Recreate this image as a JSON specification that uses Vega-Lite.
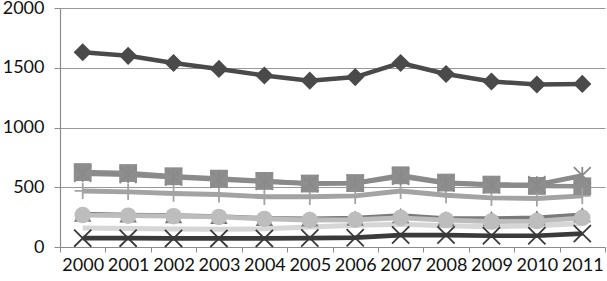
{
  "$schema": "https://vega.github.io/schema/vega-lite/v6.json",
  "width": 545,
  "height": 239,
  "autosize": {"type": "none"},
  "padding": {"left": 60, "top": 8, "right": 2, "bottom": 34},
  "background": "white",
  "config": {
    "view": {"stroke": null},
    "font": "Lato",
    "axis": {"labelFont": "Lato", "labelFontSize": 18, "labelColor": "#111", "domainColor": "#8c8c8c", "tickColor": "#8c8c8c", "gridColor": "#999999", "gridWidth": 1.2}
  },
  "data": {"values": [
    {"series": "S8", "year": "2000", "value": 158}, {"series": "S8", "year": "2001", "value": 155}, {"series": "S8", "year": "2002", "value": 150}, {"series": "S8", "year": "2003", "value": 148}, {"series": "S8", "year": "2004", "value": 152}, {"series": "S8", "year": "2005", "value": 168}, {"series": "S8", "year": "2006", "value": 182}, {"series": "S8", "year": "2007", "value": 190}, {"series": "S8", "year": "2008", "value": 178}, {"series": "S8", "year": "2009", "value": 170}, {"series": "S8", "year": "2010", "value": 178}, {"series": "S8", "year": "2011", "value": 197},
    {"series": "S3", "year": "2000", "value": 275}, {"series": "S3", "year": "2001", "value": 268}, {"series": "S3", "year": "2002", "value": 262}, {"series": "S3", "year": "2003", "value": 255}, {"series": "S3", "year": "2004", "value": 240}, {"series": "S3", "year": "2005", "value": 235}, {"series": "S3", "year": "2006", "value": 242}, {"series": "S3", "year": "2007", "value": 262}, {"series": "S3", "year": "2008", "value": 238}, {"series": "S3", "year": "2009", "value": 238}, {"series": "S3", "year": "2010", "value": 244}, {"series": "S3", "year": "2011", "value": 270},
    {"series": "S6", "year": "2000", "value": 267}, {"series": "S6", "year": "2001", "value": 262}, {"series": "S6", "year": "2002", "value": 258}, {"series": "S6", "year": "2003", "value": 252}, {"series": "S6", "year": "2004", "value": 235}, {"series": "S6", "year": "2005", "value": 226}, {"series": "S6", "year": "2006", "value": 228}, {"series": "S6", "year": "2007", "value": 244}, {"series": "S6", "year": "2008", "value": 225}, {"series": "S6", "year": "2009", "value": 213}, {"series": "S6", "year": "2010", "value": 217}, {"series": "S6", "year": "2011", "value": 244},
    {"series": "S7", "year": "2000", "value": 469}, {"series": "S7", "year": "2001", "value": 461}, {"series": "S7", "year": "2002", "value": 447}, {"series": "S7", "year": "2003", "value": 439}, {"series": "S7", "year": "2004", "value": 420}, {"series": "S7", "year": "2005", "value": 420}, {"series": "S7", "year": "2006", "value": 428}, {"series": "S7", "year": "2007", "value": 469}, {"series": "S7", "year": "2008", "value": 433}, {"series": "S7", "year": "2009", "value": 411}, {"series": "S7", "year": "2010", "value": 406}, {"series": "S7", "year": "2011", "value": 428},
    {"series": "S2", "year": "2000", "value": 627}, {"series": "S2", "year": "2001", "value": 619}, {"series": "S2", "year": "2002", "value": 592}, {"series": "S2", "year": "2003", "value": 572}, {"series": "S2", "year": "2004", "value": 553}, {"series": "S2", "year": "2005", "value": 531}, {"series": "S2", "year": "2006", "value": 535}, {"series": "S2", "year": "2007", "value": 600}, {"series": "S2", "year": "2008", "value": 539}, {"series": "S2", "year": "2009", "value": 522}, {"series": "S2", "year": "2010", "value": 511}, {"series": "S2", "year": "2011", "value": 508},
    {"series": "S5", "year": "2000", "value": 615}, {"series": "S5", "year": "2001", "value": 605}, {"series": "S5", "year": "2002", "value": 585}, {"series": "S5", "year": "2003", "value": 565}, {"series": "S5", "year": "2004", "value": 548}, {"series": "S5", "year": "2005", "value": 530}, {"series": "S5", "year": "2006", "value": 535}, {"series": "S5", "year": "2007", "value": 590}, {"series": "S5", "year": "2008", "value": 535}, {"series": "S5", "year": "2009", "value": 520}, {"series": "S5", "year": "2010", "value": 522}, {"series": "S5", "year": "2011", "value": 598},
    {"series": "S4", "year": "2000", "value": 74}, {"series": "S4", "year": "2001", "value": 74}, {"series": "S4", "year": "2002", "value": 72}, {"series": "S4", "year": "2003", "value": 72}, {"series": "S4", "year": "2004", "value": 72}, {"series": "S4", "year": "2005", "value": 75}, {"series": "S4", "year": "2006", "value": 78}, {"series": "S4", "year": "2007", "value": 100}, {"series": "S4", "year": "2008", "value": 100}, {"series": "S4", "year": "2009", "value": 94}, {"series": "S4", "year": "2010", "value": 94}, {"series": "S4", "year": "2011", "value": 112},
    {"series": "S1", "year": "2000", "value": 1630}, {"series": "S1", "year": "2001", "value": 1600}, {"series": "S1", "year": "2002", "value": 1540}, {"series": "S1", "year": "2003", "value": 1490}, {"series": "S1", "year": "2004", "value": 1435}, {"series": "S1", "year": "2005", "value": 1392}, {"series": "S1", "year": "2006", "value": 1422}, {"series": "S1", "year": "2007", "value": 1540}, {"series": "S1", "year": "2008", "value": 1448}, {"series": "S1", "year": "2009", "value": 1385}, {"series": "S1", "year": "2010", "value": 1360}, {"series": "S1", "year": "2011", "value": 1365}
  ]},
  "encoding": {
    "x": {"field": "year", "type": "ordinal", "scale": {"paddingInner": 0, "paddingOuter": 0},
      "axis": {"title": null, "labelAngle": 0, "tickBand": "extent", "tickSize": 5, "labelPadding": 4, "domainWidth": 1.2}},
    "y": {"field": "value", "type": "quantitative", "scale": {"domain": [0, 2000], "nice": false},
      "axis": {"title": null, "values": [0, 500, 1000, 1500, 2000], "format": "d", "tickSize": 6, "labelPadding": 10, "domainWidth": 1.2, "grid": true}}
  },
  "layer": [
    {
      "mark": {"type": "line", "strokeJoin": "round"},
      "encoding": {
        "color": {"field": "series", "type": "nominal", "legend": null,
          "scale": {"domain": ["S1", "S2", "S3", "S4", "S5", "S6", "S7", "S8"], "range": ["#4a4a4a", "#8e8e8e", "#7a7a7a", "#3a3a3a", "#8a8a8a", "#bdbdbd", "#a3a3a3", "#d6d6d6"]}},
        "strokeWidth": {"field": "series", "type": "nominal", "legend": null,
          "scale": {"domain": ["S1", "S2", "S3", "S4", "S5", "S6", "S7", "S8"], "range": [4.5, 5, 2.5, 5.5, 4, 5, 4, 5]}}
      }
    },
    {
      "transform": [{"filter": {"field": "series", "oneOf": ["S3", "S6", "S2", "S1"]}}],
      "mark": {"type": "point", "filled": true, "opacity": 1},
      "encoding": {
        "color": {"field": "series", "type": "nominal", "legend": null,
          "scale": {"domain": ["S1", "S2", "S3", "S4", "S5", "S6", "S7", "S8"], "range": ["#4a4a4a", "#8e8e8e", "#7a7a7a", "#3a3a3a", "#8a8a8a", "#bdbdbd", "#a3a3a3", "#d6d6d6"]}},
        "shape": {"field": "series", "type": "nominal", "legend": null,
          "scale": {"domain": ["S1", "S2", "S3", "S4", "S5", "S6", "S7", "S8"], "range": ["diamond", "square", "triangle-up", "M-1,-1L1,1M-1,1L1,-1", "M-1,-1L1,1M-1,1L1,-1M0,-1L0,1", "circle", "M-1,0L1,0M0,-1L0,1", "circle"]}},
        "size": {"field": "series", "type": "nominal", "legend": null,
          "scale": {"domain": ["S1", "S2", "S3", "S4", "S5", "S6", "S7", "S8"], "range": [330, 250, 220, 200, 220, 250, 200, 10]}}
      }
    },
    {
      "transform": [{"filter": {"field": "series", "oneOf": ["S5", "S7", "S4"]}}],
      "mark": {"type": "point", "filled": false, "opacity": 1, "strokeWidth": 1.8},
      "encoding": {
        "color": {"field": "series", "type": "nominal", "legend": null,
          "scale": {"domain": ["S1", "S2", "S3", "S4", "S5", "S6", "S7", "S8"], "range": ["#4a4a4a", "#8e8e8e", "#7a7a7a", "#222222", "#7a7a7a", "#bdbdbd", "#999999", "#d6d6d6"]}},
        "shape": {"field": "series", "type": "nominal", "legend": null,
          "scale": {"domain": ["S1", "S2", "S3", "S4", "S5", "S6", "S7", "S8"], "range": ["diamond", "square", "triangle-up", "M-1,-1L1,1M-1,1L1,-1", "M-1,-1L1,1M-1,1L1,-1M0,-1L0,1", "circle", "M-1,0L1,0M0,-1L0,1", "circle"]}},
        "size": {"field": "series", "type": "nominal", "legend": null,
          "scale": {"domain": ["S1", "S2", "S3", "S4", "S5", "S6", "S7", "S8"], "range": [330, 250, 220, 200, 220, 250, 200, 10]}}
      }
    }
  ]
}
